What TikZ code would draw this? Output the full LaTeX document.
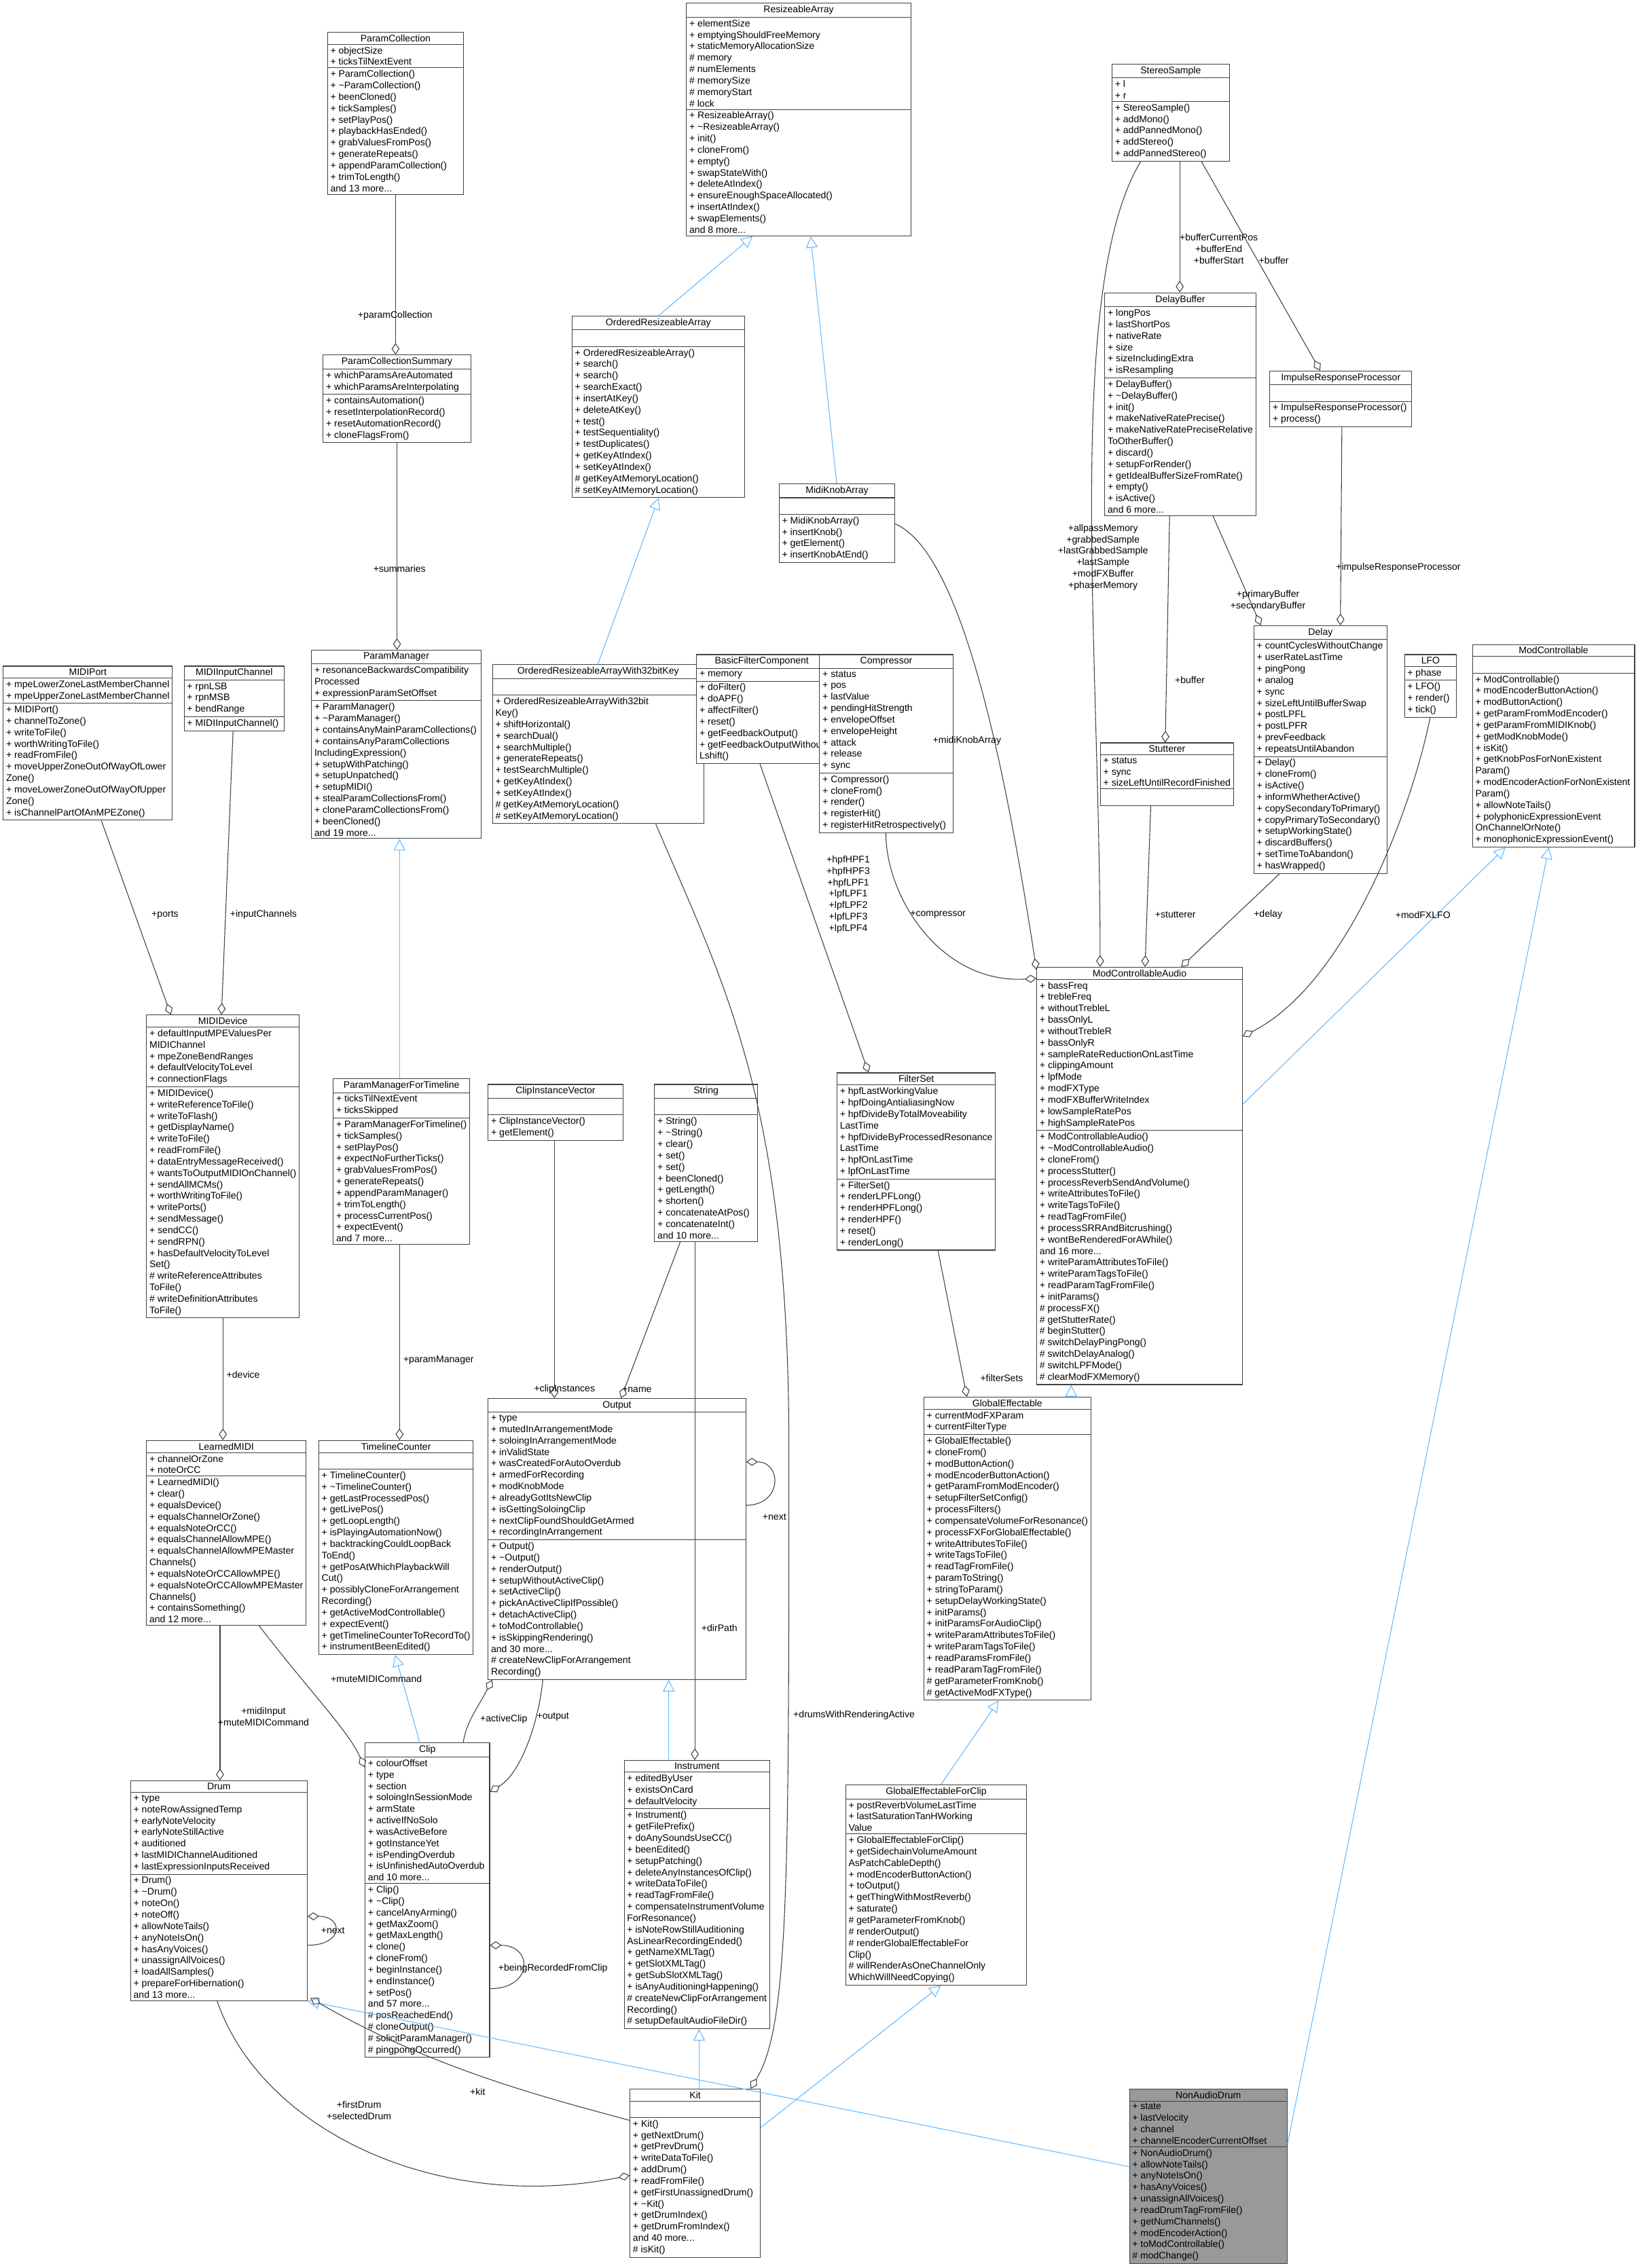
\documentclass[tikz,border=0pt]{standalone}
\usepackage{fontspec}
\setmainfont{Liberation Sans}
\usetikzlibrary{shapes.multipart,arrows.meta}
\definecolor{inhblue}{HTML}{63B8FF}
\definecolor{edgegray}{HTML}{404040}
\tikzset{
 cb/.style={rectangle split,rectangle split parts=3,draw=edgegray,line width=0.5pt,
  anchor=north west,align=left,rectangle split part align={center,left,left},
  font=\fontsize{6.6}{7.9}\selectfont,inner xsep=2pt,inner ysep=1.5pt,fill=white},
 mem/.style={draw=edgegray,line width=0.5pt,{Diamond[open,length=8pt,width=5.5pt]}-},
 inh/.style={draw=inhblue,line width=0.5pt,-{Triangle[open,length=8pt,width=8pt]}},
 lbl/.style={font=\fontsize{6.6}{7.9}\selectfont,align=center,inner sep=1pt}
}
\begin{document}
\begin{tikzpicture}[x=1pt,y=-1pt]
\useasboundingbox[fill=white] (0,0) rectangle (1130,1567);

\node[cb,minimum width=155pt] (RA) at (474,2) {ResizeableArray\nodepart{two}+ elementSize\\+ emptyingShouldFreeMemory\\+ staticMemoryAllocationSize\\\# memory\\\# numElements\\\# memorySize\\\# memoryStart\\\# lock\nodepart{three}+ ResizeableArray()\\+ \textasciitilde ResizeableArray()\\+ init()\\+ cloneFrom()\\+ empty()\\+ swapStateWith()\\+ deleteAtIndex()\\+ ensureEnoughSpaceAllocated()\\+ insertAtIndex()\\+ swapElements()\\and 8 more...};

\node[cb,minimum width=119pt] (ORA) at (395,218) {OrderedResizeableArray\nodepart{two}\strut\nodepart{three}+ OrderedResizeableArray()\\+ search()\\+ search()\\+ searchExact()\\+ insertAtKey()\\+ deleteAtKey()\\+ test()\\+ testSequentiality()\\+ testDuplicates()\\+ getKeyAtIndex()\\+ setKeyAtIndex()\\\# getKeyAtMemoryLocation()\\\# setKeyAtMemoryLocation()};

\node[cb,minimum width=146pt] (ORA32) at (340,459) {OrderedResizeableArrayWith32bitKey\nodepart{two}\strut\nodepart{three}+ OrderedResizeableArrayWith32bit\\Key()\\+ shiftHorizontal()\\+ searchDual()\\+ searchMultiple()\\+ generateRepeats()\\+ testSearchMultiple()\\+ getKeyAtIndex()\\+ setKeyAtIndex()\\\# getKeyAtMemoryLocation()\\\# setKeyAtMemoryLocation()};

\node[cb,minimum width=94pt] (PC) at (226,22) {ParamCollection\nodepart{two}+ objectSize\\+ ticksTilNextEvent\nodepart{three}+ ParamCollection()\\+ \textasciitilde ParamCollection()\\+ beenCloned()\\+ tickSamples()\\+ setPlayPos()\\+ playbackHasEnded()\\+ grabValuesFromPos()\\+ generateRepeats()\\+ appendParamCollection()\\+ trimToLength()\\and 13 more...};

\node[cb,minimum width=102pt] (PCS) at (223,245) {ParamCollectionSummary\nodepart{two}+ whichParamsAreAutomated\\+ whichParamsAreInterpolating\nodepart{three}+ containsAutomation()\\+ resetInterpolationRecord()\\+ resetAutomationRecord()\\+ cloneFlagsFrom()};

\node[cb,minimum width=117pt] (PM) at (215,449) {ParamManager\nodepart{two}+ resonanceBackwardsCompatibility\\Processed\\+ expressionParamSetOffset\nodepart{three}+ ParamManager()\\+ \textasciitilde ParamManager()\\+ containsAnyMainParamCollections()\\+ containsAnyParamCollections\\IncludingExpression()\\+ setupWithPatching()\\+ setupUnpatched()\\+ setupMIDI()\\+ stealParamCollectionsFrom()\\+ cloneParamCollectionsFrom()\\+ beenCloned()\\and 19 more...};

\node[cb,minimum width=92pt] (PMFT) at (230,745) {ParamManagerForTimeline\nodepart{two}+ ticksTilNextEvent\\+ ticksSkipped\nodepart{three}+ ParamManagerForTimeline()\\+ tickSamples()\\+ setPlayPos()\\+ expectNoFurtherTicks()\\+ grabValuesFromPos()\\+ generateRepeats()\\+ appendParamManager()\\+ trimToLength()\\+ processCurrentPos()\\+ expectEvent()\\and 7 more...};

\node[cb,minimum width=105pt] (TC) at (220,995) {TimelineCounter\nodepart{two}\strut\nodepart{three}+ TimelineCounter()\\+ \textasciitilde TimelineCounter()\\+ getLastProcessedPos()\\+ getLivePos()\\+ getLoopLength()\\+ isPlayingAutomationNow()\\+ backtrackingCouldLoopBack\\ToEnd()\\+ getPosAtWhichPlaybackWill\\Cut()\\+ possiblyCloneForArrangement\\Recording()\\+ getActiveModControllable()\\+ expectEvent()\\+ getTimelineCounterToRecordTo()\\+ instrumentBeenEdited()};

\node[cb,minimum width=116pt] (MP) at (2,460) {MIDIPort\nodepart{two}+ mpeLowerZoneLastMemberChannel\\+ mpeUpperZoneLastMemberChannel\nodepart{three}+ MIDIPort()\\+ channelToZone()\\+ writeToFile()\\+ worthWritingToFile()\\+ readFromFile()\\+ moveUpperZoneOutOfWayOfLower\\Zone()\\+ moveLowerZoneOutOfWayOfUpper\\Zone()\\+ isChannelPartOfAnMPEZone()};

\node[cb,minimum width=69pt] (MIC) at (127,460) {MIDIInputChannel\nodepart{two}+ rpnLSB\\+ rpnMSB\\+ bendRange\nodepart{three}+ MIDIInputChannel()};

\node[cb,minimum width=104pt] (MD) at (101,701) {MIDIDevice\nodepart{two}+ defaultInputMPEValuesPer\\MIDIChannel\\+ mpeZoneBendRanges\\+ defaultVelocityToLevel\\+ connectionFlags\nodepart{three}+ MIDIDevice()\\+ writeReferenceToFile()\\+ writeToFlash()\\+ getDisplayName()\\+ writeToFile()\\+ readFromFile()\\+ dataEntryMessageReceived()\\+ wantsToOutputMIDIOnChannel()\\+ sendAllMCMs()\\+ worthWritingToFile()\\+ writePorts()\\+ sendMessage()\\+ sendCC()\\+ sendRPN()\\+ hasDefaultVelocityToLevel\\Set()\\\# writeReferenceAttributes\\ToFile()\\\# writeDefinitionAttributes\\ToFile()};

\node[cb,minimum width=104pt] (LM) at (101,995) {LearnedMIDI\nodepart{two}+ channelOrZone\\+ noteOrCC\nodepart{three}+ LearnedMIDI()\\+ clear()\\+ equalsDevice()\\+ equalsChannelOrZone()\\+ equalsNoteOrCC()\\+ equalsChannelAllowMPE()\\+ equalsChannelAllowMPEMaster\\Channels()\\+ equalsNoteOrCCAllowMPE()\\+ equalsNoteOrCCAllowMPEMaster\\Channels()\\+ containsSomething()\\and 12 more...};

\node[cb,minimum width=122pt] (DR) at (90,1230) {Drum\nodepart{two}+ type\\+ noteRowAssignedTemp\\+ earlyNoteVelocity\\+ earlyNoteStillActive\\+ auditioned\\+ lastMIDIChannelAuditioned\\+ lastExpressionInputsReceived\nodepart{three}+ Drum()\\+ \textasciitilde Drum()\\+ noteOn()\\+ noteOff()\\+ allowNoteTails()\\+ anyNoteIsOn()\\+ hasAnyVoices()\\+ unassignAllVoices()\\+ loadAllSamples()\\+ prepareForHibernation()\\and 13 more...};

\node[cb,minimum width=86pt] (CL) at (252,1204) {Clip\nodepart{two}+ colourOffset\\+ type\\+ section\\+ soloingInSessionMode\\+ armState\\+ activeIfNoSolo\\+ wasActiveBefore\\+ gotInstanceYet\\+ isPendingOverdub\\+ isUnfinishedAutoOverdub\\and 10 more...\nodepart{three}+ Clip()\\+ \textasciitilde Clip()\\+ cancelAnyArming()\\+ getMaxZoom()\\+ getMaxLength()\\+ clone()\\+ cloneFrom()\\+ beginInstance()\\+ endInstance()\\+ setPos()\\and 57 more...\\\# posReachedEnd()\\\# cloneOutput()\\\# solicitParamManager()\\\# pingpongOccurred()};

\node[cb,minimum width=93pt] (CIV) at (337,749) {ClipInstanceVector\nodepart{two}\strut\nodepart{three}+ ClipInstanceVector()\\+ getElement()};

\node[cb,minimum width=71pt] (ST) at (452,749) {String\nodepart{two}\strut\nodepart{three}+ String()\\+ \textasciitilde String()\\+ clear()\\+ set()\\+ set()\\+ beenCloned()\\+ getLength()\\+ shorten()\\+ concatenateAtPos()\\+ concatenateInt()\\and 10 more...};

\node[cb,minimum width=178pt] (OU) at (337,966) {Output\nodepart{two}+ type\\+ mutedInArrangementMode\\+ soloingInArrangementMode\\+ inValidState\\+ wasCreatedForAutoOverdub\\+ armedForRecording\\+ modKnobMode\\+ alreadyGotItsNewClip\\+ isGettingSoloingClip\\+ nextClipFoundShouldGetArmed\\+ recordingInArrangement\nodepart{three}+ Output()\\+ \textasciitilde Output()\\+ renderOutput()\\+ setupWithoutActiveClip()\\+ setActiveClip()\\+ pickAnActiveClipIfPossible()\\+ detachActiveClip()\\+ toModControllable()\\+ isSkippingRendering()\\and 30 more...\\\# createNewClipForArrangement\\Recording()};

\node[cb,minimum width=99pt] (IN) at (431,1216) {Instrument\nodepart{two}+ editedByUser\\+ existsOnCard\\+ defaultVelocity\nodepart{three}+ Instrument()\\+ getFilePrefix()\\+ doAnySoundsUseCC()\\+ beenEdited()\\+ setupPatching()\\+ deleteAnyInstancesOfClip()\\+ writeDataToFile()\\+ readTagFromFile()\\+ compensateInstrumentVolume\\ForResonance()\\+ isNoteRowStillAuditioning\\AsLinearRecordingEnded()\\+ getNameXMLTag()\\+ getSlotXMLTag()\\+ getSubSlotXMLTag()\\+ isAnyAuditioningHappening()\\\# createNewClipForArrangement\\Recording()\\\# setupDefaultAudioFileDir()};

\node[cb,minimum width=90pt] (KI) at (435,1443) {Kit\nodepart{two}\strut\nodepart{three}+ Kit()\\+ getNextDrum()\\+ getPrevDrum()\\+ writeDataToFile()\\+ addDrum()\\+ readFromFile()\\+ getFirstUnassignedDrum()\\+ \textasciitilde Kit()\\+ getDrumIndex()\\+ getDrumFromIndex()\\and 40 more...\\\# isKit()};

\node[cb,minimum width=87pt] (BFC) at (481,452) {BasicFilterComponent\nodepart{two}+ memory\nodepart{three}+ doFilter()\\+ doAPF()\\+ affectFilter()\\+ reset()\\+ getFeedbackOutput()\\+ getFeedbackOutputWithout\\Lshift()};

\node[cb,minimum width=92pt] (CO) at (566,452) {Compressor\nodepart{two}+ status\\+ pos\\+ lastValue\\+ pendingHitStrength\\+ envelopeOffset\\+ envelopeHeight\\+ attack\\+ release\\+ sync\nodepart{three}+ Compressor()\\+ cloneFrom()\\+ render()\\+ registerHit()\\+ registerHitRetrospectively()};

\node[cb,minimum width=80pt] (MKA) at (538,334) {MidiKnobArray\nodepart{two}\strut\nodepart{three}+ MidiKnobArray()\\+ insertKnob()\\+ getElement()\\+ insertKnobAtEnd()};

\node[cb,minimum width=107pt] (FS) at (578,741) {FilterSet\nodepart{two}+ hpfLastWorkingValue\\+ hpfDoingAntialiasingNow\\+ hpfDivideByTotalMoveability\\LastTime\\+ hpfDivideByProcessedResonance\\LastTime\\+ hpfOnLastTime\\+ lpfOnLastTime\nodepart{three}+ FilterSet()\\+ renderLPFLong()\\+ renderHPFLong()\\+ renderHPF()\\+ reset()\\+ renderLong()};

\node[cb,minimum width=142pt] (MCA) at (716,668) {ModControllableAudio\nodepart{two}+ bassFreq\\+ trebleFreq\\+ withoutTrebleL\\+ bassOnlyL\\+ withoutTrebleR\\+ bassOnlyR\\+ sampleRateReductionOnLastTime\\+ clippingAmount\\+ lpfMode\\+ modFXType\\+ modFXBufferWriteIndex\\+ lowSampleRatePos\\+ highSampleRatePos\nodepart{three}+ ModControllableAudio()\\+ \textasciitilde ModControllableAudio()\\+ cloneFrom()\\+ processStutter()\\+ processReverbSendAndVolume()\\+ writeAttributesToFile()\\+ writeTagsToFile()\\+ readTagFromFile()\\+ processSRRAndBitcrushing()\\+ wontBeRenderedForAWhile()\\and 16 more...\\+ writeParamAttributesToFile()\\+ writeParamTagsToFile()\\+ readParamTagFromFile()\\+ initParams()\\\# processFX()\\\# getStutterRate()\\\# beginStutter()\\\# switchDelayPingPong()\\\# switchDelayAnalog()\\\# switchLPFMode()\\\# clearModFXMemory()};

\node[cb,minimum width=114pt] (GE) at (638,965) {GlobalEffectable\nodepart{two}+ currentModFXParam\\+ currentFilterType\nodepart{three}+ GlobalEffectable()\\+ cloneFrom()\\+ modButtonAction()\\+ modEncoderButtonAction()\\+ getParamFromModEncoder()\\+ setupFilterSetConfig()\\+ processFilters()\\+ compensateVolumeForResonance()\\+ processFXForGlobalEffectable()\\+ writeAttributesToFile()\\+ writeTagsToFile()\\+ readTagFromFile()\\+ paramToString()\\+ stringToParam()\\+ setupDelayWorkingState()\\+ initParams()\\+ initParamsForAudioClip()\\+ writeParamAttributesToFile()\\+ writeParamTagsToFile()\\+ readParamsFromFile()\\+ readParamTagFromFile()\\\# getParameterFromKnob()\\\# getActiveModFXType()};

\node[cb,minimum width=125pt] (GEFC) at (584,1233) {GlobalEffectableForClip\nodepart{two}+ postReverbVolumeLastTime\\+ lastSaturationTanHWorking\\Value\nodepart{three}+ GlobalEffectableForClip()\\+ getSidechainVolumeAmount\\AsPatchCableDepth()\\+ modEncoderButtonAction()\\+ toOutput()\\+ getThingWithMostReverb()\\+ saturate()\\\# getParameterFromKnob()\\\# renderOutput()\\\# renderGlobalEffectableFor\\Clip()\\\# willRenderAsOneChannelOnly\\WhichWillNeedCopying()};

\node[cb,minimum width=81pt] (SS) at (768,44) {StereoSample\nodepart{two}+ l\\+ r\nodepart{three}+ StereoSample()\\+ addMono()\\+ addPannedMono()\\+ addStereo()\\+ addPannedStereo()};

\node[cb,minimum width=103pt] (DB) at (763,202) {DelayBuffer\nodepart{two}+ longPos\\+ lastShortPos\\+ nativeRate\\+ size\\+ sizeIncludingExtra\\+ isResampling\nodepart{three}+ DelayBuffer()\\+ \textasciitilde DelayBuffer()\\+ init()\\+ makeNativeRatePrecise()\\+ makeNativeRatePreciseRelative\\ToOtherBuffer()\\+ discard()\\+ setupForRender()\\+ getIdealBufferSizeFromRate()\\+ empty()\\+ isActive()\\and 6 more...};

\node[cb,minimum width=98pt] (IRP) at (877,256) {ImpulseResponseProcessor\nodepart{two}\strut\nodepart{three}+ ImpulseResponseProcessor()\\+ process()};

\node[cb,minimum width=92pt] (DL) at (866,432) {Delay\nodepart{two}+ countCyclesWithoutChange\\+ userRateLastTime\\+ pingPong\\+ analog\\+ sync\\+ sizeLeftUntilBufferSwap\\+ postLPFL\\+ postLPFR\\+ prevFeedback\\+ repeatsUntilAbandon\nodepart{three}+ Delay()\\+ cloneFrom()\\+ isActive()\\+ informWhetherActive()\\+ copySecondaryToPrimary()\\+ copyPrimaryToSecondary()\\+ setupWorkingState()\\+ discardBuffers()\\+ setTimeToAbandon()\\+ hasWrapped()};

\node[cb,minimum width=90pt] (SU) at (760,513) {Stutterer\nodepart{two}+ status\\+ sync\\+ sizeLeftUntilRecordFinished\nodepart{three}\strut};

\node[cb,minimum width=36pt] (LF) at (970,452) {LFO\nodepart{two}+ phase\nodepart{three}+ LFO()\\+ render()\\+ tick()};

\node[cb,minimum width=112pt] (MC) at (1017,445) {ModControllable\nodepart{two}\strut\nodepart{three}+ ModControllable()\\+ modEncoderButtonAction()\\+ modButtonAction()\\+ getParamFromModEncoder()\\+ getParamFromMIDIKnob()\\+ getModKnobMode()\\+ isKit()\\+ getKnobPosForNonExistent\\Param()\\+ modEncoderActionForNonExistent\\Param()\\+ allowNoteTails()\\+ polyphonicExpressionEvent\\OnChannelOrNote()\\+ monophonicExpressionEvent()};

\node[cb,minimum width=109pt,fill=black!40,rectangle split part fill={black!40}] (NAD) at (780,1443) {NonAudioDrum\nodepart{two}+ state\\+ lastVelocity\\+ channel\\+ channelEncoderCurrentOffset\nodepart{three}+ NonAudioDrum()\\+ allowNoteTails()\\+ anyNoteIsOn()\\+ hasAnyVoices()\\+ unassignAllVoices()\\+ readDrumTagFromFile()\\+ getNumChannels()\\+ modEncoderAction()\\+ toModControllable()\\\# modChange()};

% inheritance
\draw[inh] ([xshift=60pt]ORA.north west) -- ([xshift=46pt]RA.south west);
\draw[inh] ([xshift=73pt]ORA32.north west) -- ([xshift=60pt]ORA.south west);
\draw[inh] ([xshift=40pt]MKA.north west) -- ([xshift=86pt]RA.south west);
\draw[inh] ([xshift=46pt]PMFT.north west) -- ([xshift=61pt]PM.south west);
\draw[inh] ([xshift=38pt]CL.north west) -- ([xshift=53pt]TC.south west);
\draw[inh] ([xshift=31pt]IN.north west) -- ([xshift=125pt]OU.south west);
\draw[inh] ([xshift=48pt]KI.north west) -- ([xshift=52pt]IN.south west);
\draw[inh] ([yshift=-27pt]KI.north east) -- ([xshift=66pt]GEFC.south west);
\draw[inh] ([xshift=66pt]GEFC.north west) -- ([xshift=52pt]GE.south west);
\draw[inh] ([xshift=102pt]GE.north west) -- ([xshift=24pt]MCA.south west);
\draw[inh] ([yshift=-95pt]MCA.north east) -- ([xshift=23pt]MC.south west);
\draw[inh] ([yshift=-38pt]NAD.north east) -- ([xshift=53pt]MC.south west);
\draw[inh] ([yshift=-54pt]NAD.north west) -- (DR.south east);

% members
\draw[mem] (PCS.north -| PC.south) -- (PC.south);
\node[lbl] (l1) at (273,218) {+paramCollection};
\draw[mem] (PM.north -| PCS.south) -- (PCS.south);
\node[lbl] (l2) at (276,393) {+summaries};
\draw[mem] ([xshift=56pt]TC.north west) -- ([xshift=46pt]PMFT.south west);
\node[lbl] (l3) at (303,940) {+paramManager};
\draw[mem] ([xshift=17pt]MD.north west) -- ([xshift=68pt]MP.south west);
\node[lbl] (l4) at (114,632) {+ports};
\draw[mem] ([xshift=52pt]MD.north west) -- ([xshift=34pt]MIC.south west);
\node[lbl] (l5) at (182,632) {+inputChannels};
\draw[mem] (LM.north -| MD.south) -- (MD.south);
\node[lbl] (l6) at (168,950) {+device};
\draw[mem] ([xshift=62pt]DR.north west) -- ([xshift=51pt]LM.south west);
\node[lbl] (l7) at (182,1186) {+midiInput\\+muteMIDICommand};
\draw[mem] ([yshift=-17pt]CL.north west) .. controls (240,1195) and (215,1170) .. ([xshift=78pt]LM.south west);
\node[lbl] (l8) at (260,1160) {+muteMIDICommand};
\draw[mem] ([yshift=-94pt]DR.north east) .. controls +(25,0) and +(25,0) .. ([yshift=-114pt]DR.north east);
\node[lbl] (l9) at (230,1334) {+next};
\draw[mem] ([yshift=-140pt]CL.north east) .. controls +(30,0) and +(30,0) .. ([yshift=-170pt]CL.north east);
\node[lbl] (l10) at (382,1360) {+beingRecordedFromClip};
\draw[mem] ([xshift=46pt]OU.north west) -- ([xshift=46pt]CIV.south west);
\node[lbl] (l11) at (390,960) {+clipInstances};
\draw[mem] ([xshift=92pt]OU.north west) -- ([xshift=18pt]ST.south west);
\node[lbl] (l12) at (440,960) {+name};
\draw[mem] ([xshift=28pt]ST.south west |- IN.north) -- ([xshift=28pt]ST.south west);
\node[lbl] (l13) at (497,1125) {+dirPath};
\draw[mem] ([yshift=-44pt]OU.north east) .. controls +(25,0) and +(25,0) .. ([yshift=-74pt]OU.north east);
\node[lbl] (l14) at (535,1048) {+next};
\draw[mem] ([xshift=3pt]OU.south west) .. controls (330,1180) and (322,1190) .. ([xshift=68pt]CL.north west);
\node[lbl] (l15) at (348,1188) {+activeClip};
\draw[mem] ([yshift=-34pt]CL.north east) .. controls (360,1225) and (372,1190) .. ([xshift=38pt]OU.south west);
\node[lbl] (l16) at (382,1186) {+output};
\draw[mem] ([xshift=-7pt]KI.north east) .. controls (545,1400) and (545,1300) .. (545,1000) .. controls (545,760) and (500,680) .. ([xshift=113pt]ORA32.south west);
\node[lbl] (l17) at (590,1185) {+drumsWithRenderingActive};
\draw[mem] ([yshift=-60pt]KI.north west) .. controls (300,1530) and (180,1470) .. ([xshift=60pt]DR.south west);
\node[lbl] (l18) at (248,1458) {+firstDrum\\+selectedDrum};
\draw[mem] ([xshift=2pt,yshift=2pt]DR.south east) .. controls (300,1430) and (380,1450) .. ([yshift=-22pt]KI.north west);
\node[lbl] (l19) at (330,1445) {+kit};
\draw[mem] ([xshift=30pt]GE.north west) -- ([xshift=70pt]FS.south west);
\node[lbl] (l20) at (692,952) {+filterSets};
\draw[mem] ([xshift=22pt]FS.north west) -- ([xshift=44pt]BFC.south west);
\node[lbl] (l21) at (586,618) {+hpfHPF1\\+hpfHPF3\\+hpfLPF1\\+lpfLPF1\\+lpfLPF2\\+lpfLPF3\\+lpfLPF4};
\draw[mem] ([yshift=-8pt]MCA.north west) .. controls (650,680) and (612,620) .. ([xshift=46pt]CO.south west);
\node[lbl] (l22) at (648,632) {+compressor};
\draw[mem] ([yshift=-2pt]MCA.north west) .. controls (690,500) and (660,380) .. ([yshift=-28pt]MKA.north east);
\node[lbl] (l23) at (668,512) {+midiKnobArray};
\draw[mem] ([xshift=44pt]MCA.north west) .. controls (760,450) and (735,200) .. ([xshift=20pt]SS.south west);
\node[lbl] (l24) at (762,385) {+allpassMemory\\+grabbedSample\\+lastGrabbedSample\\+lastSample\\+modFXBuffer\\+phaserMemory};
\draw[mem] ([xshift=52pt]DB.north west) -- ([xshift=47pt]SS.south west);
\node[lbl] (l25) at (842,172) {+bufferCurrentPos\\+bufferEnd\\+bufferStart};
\draw[mem] ([xshift=35pt]IRP.north west) -- ([xshift=62pt]SS.south west);
\node[lbl] (l26) at (880,180) {+buffer};
\draw[mem] ([xshift=45pt]SU.north west) -- ([xshift=45pt]DB.south west);
\node[lbl] (l27) at (822,470) {+buffer};
\draw[mem] ([xshift=5pt]DL.north west) -- ([xshift=75pt]DB.south west);
\node[lbl] (l28) at (876,415) {+primaryBuffer\\+secondaryBuffer};
\draw[mem] ([xshift=60pt]DL.north west) -- ([xshift=50pt]IRP.south west);
\node[lbl] (l29) at (966,392) {+impulseResponseProcessor};
\draw[mem] ([xshift=75pt]MCA.north west) -- ([xshift=35pt]SU.south west);
\node[lbl] (l30) at (812,632) {+stutterer};
\draw[mem] ([xshift=100pt]MCA.north west) -- ([xshift=18pt]DL.south west);
\node[lbl] (l31) at (876,632) {+delay};
\draw[mem] ([yshift=-48pt]MCA.north east) .. controls (930,680) and (975,560) .. ([xshift=18pt]LF.south west);
\node[lbl] (l32) at (983,632) {+modFXLFO};
\end{tikzpicture}
\end{document}
